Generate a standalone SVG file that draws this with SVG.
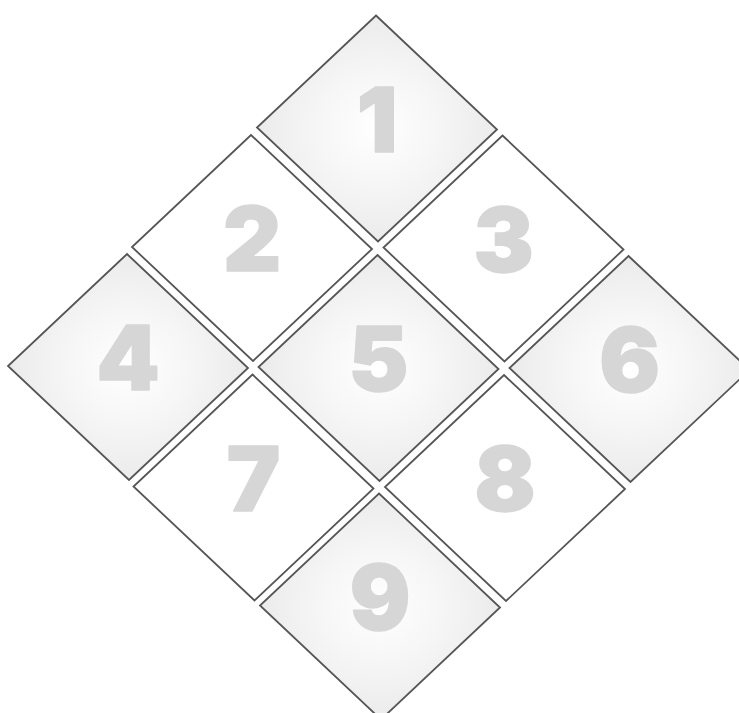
<svg xmlns="http://www.w3.org/2000/svg" xmlns:xlink="http://www.w3.org/1999/xlink" width="739" height="713" viewBox="0 0 739 713">
  <defs>
    <radialGradient id="glow" cx="0.5" cy="0.5" r="0.5">
      <stop offset="0" stop-color="#ffffff"/>
      <stop offset="0.5" stop-color="#f6f6f6"/>
      <stop offset="1" stop-color="#ebebeb"/>
    </radialGradient>
    <path id="tile" d="M -1,-113 L 120,1 L 1,113 L -120,-1 Z"/>
  </defs>
  <style>
    .shaded { fill: url(#glow); stroke: #555555; stroke-width: 1.8; }
    .plain { fill: #ffffff; stroke: #555555; stroke-width: 1.8; }
    .num { font-family: Inter, "Liberation Sans", sans-serif; font-weight: 900; font-size: 90px; fill: #d6d6d6; stroke: #d6d6d6; stroke-width: 1.5; stroke-linejoin: round; text-anchor: middle; }
  </style>
  <rect width="739" height="713" fill="#ffffff"/>
  <g id="node-1" transform="translate(377,128.5)">
    <use xlink:href="#tile" href="#tile" class="shaded"/>
    <text class="num" x="0" y="23">1</text>
  </g>
  <g id="node-2" transform="translate(252,248)">
    <use xlink:href="#tile" href="#tile" class="plain"/>
    <text class="num" x="0" y="23">2</text>
  </g>
  <g id="node-3" transform="translate(503.5,248.5)">
    <use xlink:href="#tile" href="#tile" class="plain"/>
    <text class="num" x="0" y="23">3</text>
  </g>
  <g id="node-4" transform="translate(128,367)">
    <use xlink:href="#tile" href="#tile" class="shaded"/>
    <text class="num" x="0" y="23">4</text>
  </g>
  <g id="node-5" transform="translate(378.5,368)">
    <use xlink:href="#tile" href="#tile" class="shaded"/>
    <text class="num" x="0" y="23">5</text>
  </g>
  <g id="node-6" transform="translate(629.5,369)">
    <use xlink:href="#tile" href="#tile" class="shaded"/>
    <text class="num" x="0" y="23">6</text>
  </g>
  <g id="node-7" transform="translate(253.5,487.5)">
    <use xlink:href="#tile" href="#tile" class="plain"/>
    <text class="num" x="0" y="23">7</text>
  </g>
  <g id="node-8" transform="translate(505,488)">
    <use xlink:href="#tile" href="#tile" class="plain"/>
    <text class="num" x="0" y="23">8</text>
  </g>
  <g id="node-9" transform="translate(380,606.5)">
    <use xlink:href="#tile" href="#tile" class="shaded"/>
    <text class="num" x="0" y="23">9</text>
  </g>
  <g id="connectors"/>
</svg>
